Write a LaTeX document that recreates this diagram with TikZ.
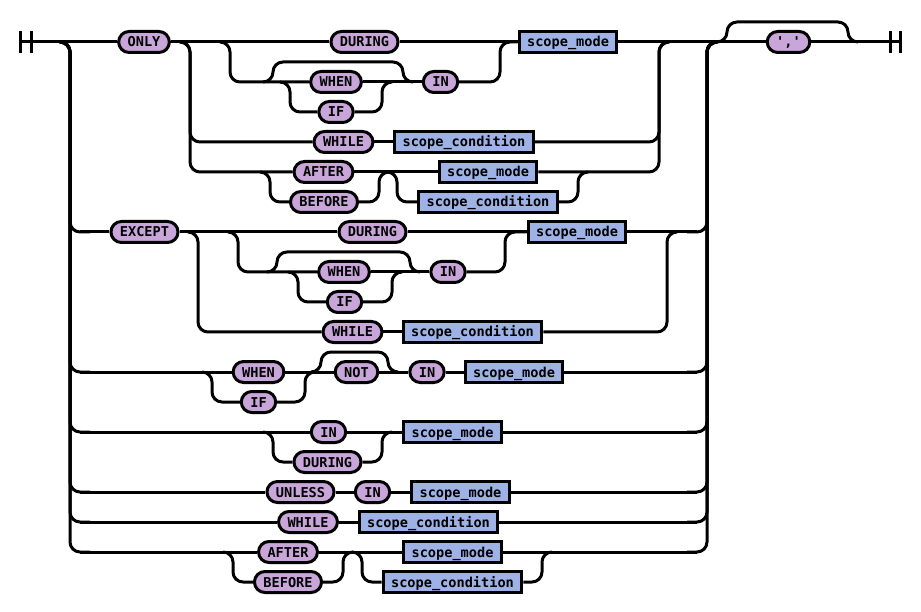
\documentclass[tikz,border=0pt]{standalone}
\usepackage{fontspec}
\usetikzlibrary{backgrounds}
\newfontfamily\rrfont{DejaVu Sans Mono}
\definecolor{termfill}{RGB}{201,166,217}
\definecolor{ntfill}{RGB}{158,178,230}
\begin{document}
\begin{tikzpicture}[x=1pt,y=-1pt,
  rr/.style={line width=3pt,rounded corners=10pt},
  term/.style={draw,line width=3pt,fill=termfill,rounded corners=10.5pt,minimum height=21pt,inner xsep=9pt,inner ysep=0pt,text height=13pt,text depth=3pt,font=\rrfont\bfseries\fontsize{13.6}{15}\selectfont},
  nterm/.style={draw,line width=3pt,fill=ntfill,minimum height=21pt,inner xsep=8pt,inner ysep=0pt,text height=13pt,text depth=3pt,font=\rrfont\bfseries\fontsize{13.6}{15}\selectfont},
  bar/.style={line width=3pt}]
\useasboundingbox (0,0) rectangle (921,612);
% ---------- nodes ----------
% row 42
\node[term] (only) at (144,42) {ONLY};
\node[term] (during1) at (364.5,42) {DURING};
\node[nterm] (mode1) at (568,42) {scope\_mode};
\node[term] (comma) at (788.5,42) {\textquotesingle,\textquotesingle};
% rows 82/112
\node[term] (when1) at (336,82) {WHEN};
\node[term] (in1) at (440.5,82) {IN};
\node[term] (if1) at (336,112) {IF};
% row 142
\node[term] (while1) at (343.5,142) {WHILE};
\node[nterm] (cond1) at (464,142) {scope\_condition};
% rows 172/202
\node[term] (after1) at (323.5,172) {AFTER};
\node[nterm] (mode2) at (488,172) {scope\_mode};
\node[term] (before1) at (324,202) {BEFORE};
\node[nterm] (cond2) at (488,202) {scope\_condition};
% row 232
\node[term] (except) at (144.5,232) {EXCEPT};
\node[term] (during2) at (372.5,232) {DURING};
\node[nterm] (mode3) at (577,232) {scope\_mode};
% rows 272/302
\node[term] (when2) at (344,272) {WHEN};
\node[term] (in2) at (448,272) {IN};
\node[term] (if2) at (344.5,302) {IF};
% row 332
\node[term] (while2) at (352.5,332) {WHILE};
\node[nterm] (cond3) at (472.5,332) {scope\_condition};
% rows 372/402
\node[term] (when3) at (258.5,372) {WHEN};
\node[term] (not) at (356.5,372) {NOT};
\node[term] (in3) at (427,372) {IN};
\node[nterm] (mode4) at (514,372) {scope\_mode};
\node[term] (if3) at (258.5,402) {IF};
% rows 432/462
\node[term] (in4) at (328.5,432) {IN};
\node[nterm] (mode5) at (452.5,432) {scope\_mode};
\node[term] (during3) at (327.5,462) {DURING};
% row 492
\node[term] (unless) at (300.5,492) {UNLESS};
\node[term] (in5) at (372.5,492) {IN};
\node[nterm] (mode6) at (460.5,492) {scope\_mode};
% row 522
\node[term] (while3) at (308,522) {WHILE};
\node[nterm] (cond4) at (428.5,522) {scope\_condition};
% rows 552/582
\node[term] (after2) at (288,552) {AFTER};
\node[nterm] (mode7) at (452.5,552) {scope\_mode};
\node[term] (before2) at (288,582) {BEFORE};
\node[nterm] (cond5) at (452.5,582) {scope\_condition};
% ---------- start / end ----------
\coordinate (s1) at (20,42);
\coordinate (e2) at (900,42);
\draw[bar] (20,31) -- (20,53);
\draw[bar] (31,31) -- (31,53);
\draw[bar] (890,31) -- (890,53);
\draw[bar] (900,31) -- (900,53);
\begin{scope}[on background layer]
% ---------- row 42 ----------
\draw[rr] (s1) -- (only.west);
\draw[rr] (only.east) -- (during1.west);
\draw[rr] (during1.east) -- (mode1.west);
\draw[rr] (mode1.east) -- (comma.west);
\draw[rr] (comma.east) -- (e2);
% optional comma bypass
\draw[rr] (717,42) -- (727,42) -- (727,22) -- (848,22) -- (848,42) -- (858,42);
% ---------- left big choice ----------
\foreach \r in {232,372,432,492,522,552}{
  \draw[rr] (60,42) -- (70,42) -- (70,\r) -- (90,\r);
  \draw[rr] (687,\r) -- (707,\r) -- (707,42) -- (717,42);
}
% ---------- ONLY branch ----------
\draw[rr] (220,42) -- (230,42) -- (230,82) -- (when1.west);
\draw[rr] (263,82) -- (273,82) -- (273,62) -- (403,62) -- (403,82) -- (413,82);
\draw[rr] (280,82) -- (290,82) -- (290,112) -- (if1.west);
\draw[rr] (when1.east) -- (in1.west);
\draw[rr] (if1.east) -- (382,112) -- (382,82) -- (392,82);
\draw[rr] (in1.east) -- (500,82) -- (500,42) -- (mode1.west);
\draw[rr] (180,42) -- (190,42) -- (190,142) -- (while1.west);
\draw[rr] (while1.east) -- (cond1.west);
\draw[rr] (cond1.east) -- (659,142) -- (659,42) -- (669,42);
\draw[rr] (180,42) -- (190,42) -- (190,172) -- (after1.west);
\draw[rr] (260,172) -- (270,172) -- (270,202) -- (before1.west);
\draw[rr] (after1.east) -- (mode2.west);
\draw[rr] (before1.east) -- (379,202) -- (379,172) -- (389,172);
\draw[rr] (387,172) -- (397,172) -- (397,202) -- (cond2.west);
\draw[rr] (cond2.east) -- (578,202) -- (578,172) -- (588,172);
\draw[rr] (mode2.east) -- (659,172) -- (659,42) -- (669,42);
% ---------- EXCEPT branch ----------
\draw[rr] (80,232) -- (except.west);
\draw[rr] (except.east) -- (during2.west);
\draw[rr] (during2.east) -- (mode3.west);
\draw[rr] (mode3.east) -- (697,232);
\draw[rr] (228,232) -- (238,232) -- (238,272) -- (when2.west);
\draw[rr] (267,272) -- (277,272) -- (277,252) -- (410,252) -- (410,272) -- (420,272);
\draw[rr] (288,272) -- (298,272) -- (298,302) -- (if2.west);
\draw[rr] (when2.east) -- (in2.west);
\draw[rr] (if2.east) -- (392,302) -- (392,272) -- (402,272);
\draw[rr] (in2.east) -- (505,272) -- (505,232) -- (mode3.west);
\draw[rr] (188,232) -- (198,232) -- (198,332) -- (while2.west);
\draw[rr] (while2.east) -- (cond3.west);
\draw[rr] (cond3.east) -- (667,332) -- (667,232) -- (677,232);
% ---------- WHEN|IF NOT IN ----------
\draw[rr] (80,372) -- (when3.west);
\draw[rr] (202,372) -- (212,372) -- (212,402) -- (if3.west);
\draw[rr] (if3.east) -- (305,402) -- (305,372) -- (315,372);
\draw[rr] (when3.east) -- (not.west);
\draw[rr] (311,372) -- (321,372) -- (321,352) -- (388,352) -- (388,372) -- (398,372);
\draw[rr] (not.east) -- (in3.west);
\draw[rr] (in3.east) -- (mode4.west);
\draw[rr] (mode4.east) -- (697,372);
% ---------- IN|DURING ----------
\draw[rr] (80,432) -- (in4.west);
\draw[rr] (263,432) -- (273,432) -- (273,462) -- (during3.west);
\draw[rr] (in4.east) -- (mode5.west);
\draw[rr] (during3.east) -- (382,462) -- (382,432) -- (392,432);
\draw[rr] (mode5.east) -- (697,432);
% ---------- UNLESS ----------
\draw[rr] (80,492) -- (unless.west);
\draw[rr] (unless.east) -- (in5.west);
\draw[rr] (in5.east) -- (mode6.west);
\draw[rr] (mode6.east) -- (697,492);
% ---------- WHILE ----------
\draw[rr] (80,522) -- (while3.west);
\draw[rr] (while3.east) -- (cond4.west);
\draw[rr] (cond4.east) -- (697,522);
% ---------- AFTER|BEFORE ----------
\draw[rr] (80,552) -- (after2.west);
\draw[rr] (223,552) -- (233,552) -- (233,582) -- (before2.west);
\draw[rr] (before2.east) -- (343,582) -- (343,552) -- (353,552);
\draw[rr] (after2.east) -- (mode7.west);
\draw[rr] (352,552) -- (362,552) -- (362,582) -- (cond5.west);
\draw[rr] (cond5.east) -- (542,582) -- (542,552) -- (552,552);
\draw[rr] (mode7.east) -- (697,552);
\end{scope}
\end{tikzpicture}
\end{document}
